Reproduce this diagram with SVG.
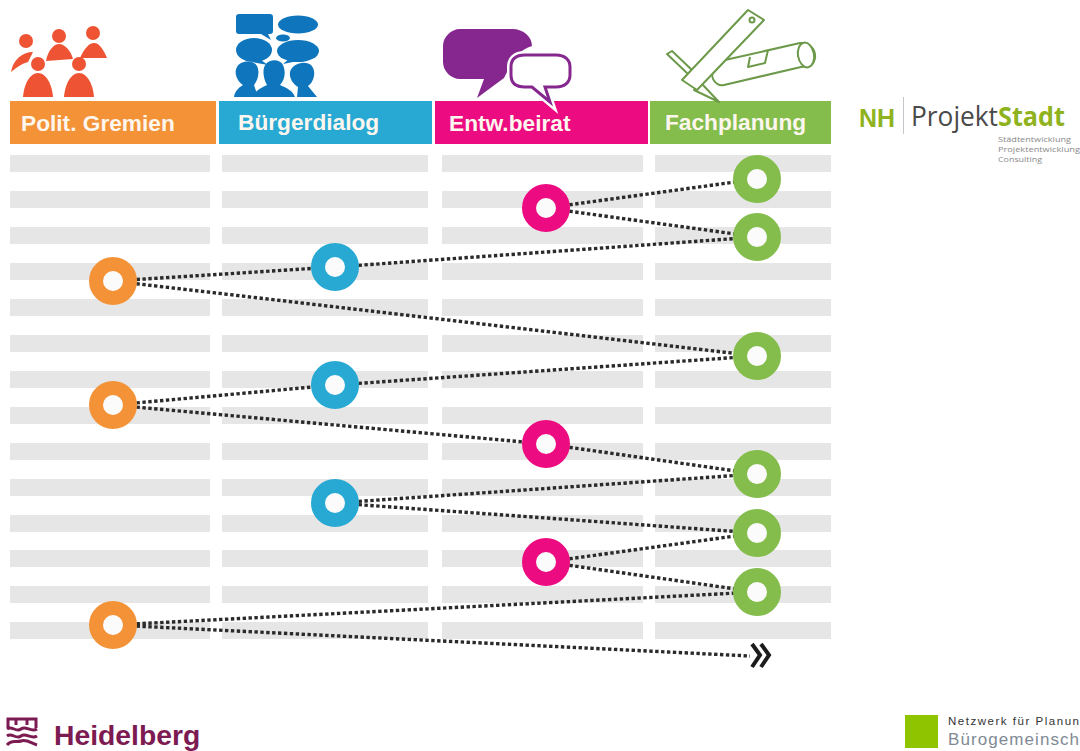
<svg xmlns="http://www.w3.org/2000/svg" width="1080" height="751" viewBox="0 0 1080 751">
<style>
.hd{font-family:"Liberation Sans",Arial,sans-serif;font-weight:700;font-size:22.7px;fill:#fdf6ee}
.row{fill:#e6e6e6}
.c{fill:none;stroke:#2a2a2a;stroke-width:3.4;stroke-dasharray:3.4 2.5}
.ring{fill:#fbfbfb;stroke-width:14}
.or{stroke:#f39237}.bl{stroke:#27a9d3}.pk{stroke:#ec0b80}.gr{stroke:#84bd4b}
.ic1{fill:#ee5433}.ic2{fill:#0f75bc}
.ic4{fill:#fff;stroke:#6d9a4a;stroke-width:2;stroke-linejoin:round}
</style>
<rect width="1080" height="751" fill="#fff"/>
<g id="rows">
<path class="row" d="M10 155h200v17H10zM10 191h200v17H10zM10 227h200v17H10zM10 263h200v17H10zM10 299h200v17H10zM10 335h200v17H10zM10 371h200v17H10zM10 407h200v17H10zM10 443h200v17H10zM10 479h200v17H10zM10 515h200v17H10zM10 550h200v17H10zM10 586h200v17H10zM10 622h200v17H10z"/>
<path class="row" d="M222 155h206v17H222zM222 191h206v17H222zM222 227h206v17H222zM222 263h206v17H222zM222 299h206v17H222zM222 335h206v17H222zM222 371h206v17H222zM222 407h206v17H222zM222 443h206v17H222zM222 479h206v17H222zM222 515h206v17H222zM222 550h206v17H222zM222 586h206v17H222zM222 622h206v17H222z"/>
<path class="row" d="M442 155h201v17H442zM442 191h201v17H442zM442 227h201v17H442zM442 263h201v17H442zM442 299h201v17H442zM442 335h201v17H442zM442 371h201v17H442zM442 407h201v17H442zM442 443h201v17H442zM442 479h201v17H442zM442 515h201v17H442zM442 550h201v17H442zM442 586h201v17H442zM442 622h201v17H442z"/>
<path class="row" d="M655 155h176v17H655zM655 191h176v17H655zM655 227h176v17H655zM655 263h176v17H655zM655 299h176v17H655zM655 335h176v17H655zM655 371h176v17H655zM655 407h176v17H655zM655 443h176v17H655zM655 479h176v17H655zM655 515h176v17H655zM655 550h176v17H655zM655 586h176v17H655zM655 622h176v17H655z"/>
</g>
<g id="connectors">
<path class="c" d="M546 208L757 179"/>
<path class="c" d="M546 208L757 237"/>
<path class="c" d="M335 267L757 237"/>
<path class="c" d="M113 281L335 267"/>
<path class="c" d="M113 281L757 356"/>
<path class="c" d="M113 405L335 385"/>
<path class="c" d="M335 385L757 356"/>
<path class="c" d="M113 405L546 444"/>
<path class="c" d="M546 444L757 474"/>
<path class="c" d="M335 503L757 474"/>
<path class="c" d="M335 503L757 533"/>
<path class="c" d="M546 562L757 533"/>
<path class="c" d="M546 562L757 592"/>
<path class="c" d="M113 625L757 592"/>
<path class="c" d="M113 625L750 656"/>
<path fill="none" stroke="#1c1c1c" stroke-width="4" d="M752 644L760 655L752 667M761 644L769 655L761 667"/>
</g>
<g id="head-politik">
<rect x="10" y="101" width="206" height="43" fill="#f39237"/>
<text class="hd" x="21" y="131">Polit. Gremien</text>
<g class="ic1">
<circle cx="26" cy="41" r="7"/><circle cx="59" cy="36" r="7"/><circle cx="93" cy="33" r="7"/><circle cx="38" cy="64" r="7"/><circle cx="79" cy="64" r="7"/>
<path d="M11 72C13 60 22 52 33 52L28 62C21 64 16 68 11 72Z"/><path d="M46 61C48 50 54 44 59 44C65 44 71 51 73 59C64 60 55 60 46 61Z"/><path d="M80 58C84 49 89 43 94 43C100 43 104 51 107 58Z"/>
<path d="M23 97C24 84 30 73 38 73C46 73 52 84 53 97Z"/><path d="M64 97C65 84 71 73 79 73C87 73 93 84 94 97Z"/>
</g>
</g>
<g id="head-buerger">
<rect x="219" y="101" width="213" height="43" fill="#27a9d3"/>
<text class="hd" x="238" y="130">Bürgerdialog</text>
<g class="ic2">
<path d="M239 14H270Q273 14 273 17V31Q273 34 270 34H268L271 40L261 34H239Q236 34 236 31V17Q236 14 239 14Z"/>
<ellipse cx="298" cy="24.500" rx="20" ry="9"/><ellipse cx="283" cy="38" rx="7" ry="3.500"/>
<ellipse cx="254" cy="50" rx="18" ry="12"/><path d="M258 58L268 65L252 62Z"/>
<ellipse cx="298" cy="51" rx="21" ry="11"/><path d="M290 58L283 64L298 61Z"/>
<path d="M234 97C235 90 240 87 243 85C236 80 234 72 237 67C241 60 254 60 257 66C260 72 258 80 254 85L258 97Z"/>
<path d="M253 97C255 90 263 87 267 85C263 78 262 68 266 64C270 59 280 59 283 65C286 72 285 80 280 85C287 88 293 91 295 97Z"/>
<path d="M297 97L298 87C293 84 289 78 290 72C292 64 304 60 311 65C317 71 314 82 308 86L317 97Z"/>
</g>
</g>
<g id="head-beirat">
<rect x="435" y="101" width="213" height="43" fill="#ec0b80"/>
<text class="hd" x="449" y="131">Entw.beirat</text>
<path fill="#85278f" d="M460 29H512C524 29 532 37 532 46C520 50 510 60 507 72L504 78L477 98L484 79H460C451 79 443 71 443 62V46C443 37 451 29 460 29Z"/>
<path fill="#fff" stroke="#fff" stroke-width="8" d="M525 55H556C565 55 570 60 570 67V75C570 82 565 87 556 87H545L550 102L532 87H525C515 87 511 82 511 75V67C511 60 515 55 525 55Z"/>
<path fill="#fff" stroke="#85278f" stroke-width="3" d="M525 55H556C565 55 570 60 570 67V75C570 82 565 87 556 87H545L550 102L532 87H525C515 87 511 82 511 75V67C511 60 515 55 525 55Z"/>
</g>
<g id="head-fach">
<rect x="650" y="101" width="181" height="43" fill="#84bd4b"/>
<g class="ic4">
<path d="M725 60L800 43C810 42 816 50 815 58C814 66 808 66 801 67L724 85C716 87 709 76 714 72Z"/>
<ellipse cx="806" cy="55" rx="8" ry="12.500" transform="rotate(-10 806 55)"/>
<path d="M750 57L748 67L765 63L768 50" fill="none"/>
<path d="M688 74L667 54L672 51L692 70ZM702 84L719 102L694 90Z"/>
<path d="M682 80L748 10L764 20L697 90Z"/><circle cx="752" cy="20" r="2.500"/>
</g>
<text class="hd" x="665" y="130">Fachplanung</text>
</g>
<g id="nodes">
<circle id="n1" class="ring gr" cx="757" cy="179" r="17"/>
<circle id="n2" class="ring pk" cx="546" cy="208" r="17"/>
<circle id="n3" class="ring gr" cx="757" cy="237" r="17"/>
<circle id="n4" class="ring bl" cx="335" cy="267" r="17"/>
<circle id="n5" class="ring or" cx="113" cy="281" r="17"/>
<circle id="n6" class="ring gr" cx="757" cy="356" r="17"/>
<circle id="n7" class="ring bl" cx="335" cy="385" r="17"/>
<circle id="n8" class="ring or" cx="113" cy="405" r="17"/>
<circle id="n9" class="ring pk" cx="546" cy="444" r="17"/>
<circle id="n10" class="ring gr" cx="757" cy="474" r="17"/>
<circle id="n11" class="ring bl" cx="335" cy="503" r="17"/>
<circle id="n12" class="ring gr" cx="757" cy="533" r="17"/>
<circle id="n13" class="ring pk" cx="546" cy="562" r="17"/>
<circle id="n14" class="ring gr" cx="757" cy="592" r="17"/>
<circle id="n15" class="ring or" cx="113" cy="625" r="17"/>
</g>
<g id="logo-nh">
<text x="859" y="127" font-family="'Liberation Sans',sans-serif" font-weight="700" font-size="26" fill="#8fb31e" textLength="36" lengthAdjust="spacingAndGlyphs">NH</text>
<rect x="903" y="97" width="1" height="37" fill="#c5c5cc"/>
<text x="911" y="126" font-family="'Open Sans',sans-serif" font-size="27" fill="#4a4a4a" textLength="87" lengthAdjust="spacingAndGlyphs">Projekt</text>
<text x="998" y="126" font-family="'Open Sans',sans-serif" font-weight="700" font-size="27" fill="#8fb31e" textLength="67" lengthAdjust="spacingAndGlyphs">Stadt</text>
<g font-family="'Open Sans',sans-serif" font-size="8" fill="#8a8a8a">
<text x="998" y="142" textLength="73" lengthAdjust="spacingAndGlyphs">Städtentwicklung</text>
<text x="998" y="152" textLength="82" lengthAdjust="spacingAndGlyphs">Projektentwicklung</text>
<text x="998" y="162" textLength="44" lengthAdjust="spacingAndGlyphs">Consulting</text>
</g>
</g>
<g id="logo-heidelberg">
<path fill="none" stroke="#7c1a52" stroke-width="3" d="M8 728V719H16V725M16 719H27V725M27 719H36V728M7 729C12 725 16 733 21 729C26 725 31 733 37 729M7 736C12 732 16 740 21 736C26 732 31 740 37 736M7 745C12 739 16 743 21 741C26 739 31 743 37 745"/>
<text x="54" y="745" font-family="'Liberation Sans',sans-serif" font-weight="700" font-size="28.300" fill="#7c1a52">Heidelberg</text>
</g>
<g id="logo-netzwerk">
<rect x="905" y="715" width="33" height="33" fill="#8fc400"/>
<text x="948" y="725" font-family="'Liberation Sans',sans-serif" font-size="11.500" fill="#333" textLength="131" lengthAdjust="spacing">Netzwerk für Planun</text>
<text x="948" y="745" font-family="'Liberation Sans',sans-serif" font-size="17" fill="#808a94" textLength="131" lengthAdjust="spacing">Bürogemeinsch</text>
</g>
</svg>
